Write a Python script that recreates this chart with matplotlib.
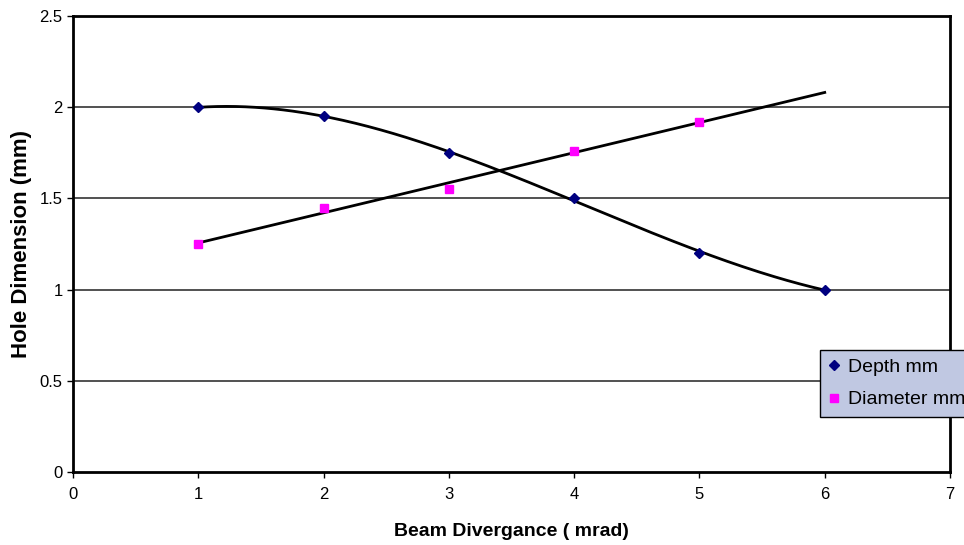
import matplotlib
matplotlib.use("Agg")
import matplotlib.pyplot as plt
import numpy as np

plt.rcParams['font.family'] = ['Liberation Sans', 'DejaVu Sans']

# data
divergence = [1, 2, 3, 4, 5, 6]
depth_mm = [2.0, 1.95, 1.75, 1.5, 1.2, 1.0]
div_diam = [1, 2, 3, 4, 5]
diameter_mm = [1.25, 1.45, 1.55, 1.76, 1.92]
x_ticks = [0, 1, 2, 3, 4, 5, 6, 7]
y_ticks = [0, 0.5, 1, 1.5, 2, 2.5]

fig = plt.figure(figsize=(9.64, 5.45), dpi=100)
ax = fig.add_axes([0.0757, 0.1339, 0.9098, 0.8367])

for yv in y_ticks[1:-1]:
    ax.axhline(yv, color='#333333', lw=1.2, zorder=1)

# trend lines (excel style): polynomial for depth, linear forecast for diameter
xs = np.linspace(divergence[0], divergence[-1], 200)
p_depth = np.polyfit(divergence, depth_mm, 3)
ax.plot(xs, np.polyval(p_depth, xs), color='black', lw=2, zorder=2)
p_diam = np.polyfit(div_diam, diameter_mm, 1)
ax.plot(xs, np.polyval(p_diam, xs), color='black', lw=2, zorder=2)

ax.plot(divergence, depth_mm, ls='none', marker='D', ms=5.5,
        color='#000080', label='Depth mm', zorder=3)
ax.plot(div_diam, diameter_mm, ls='none', marker='s', ms=6,
        color='#FF00FF', label='Diameter mm', zorder=3)

ax.set_xlim(0, 7)
ax.set_ylim(0, 2.5)
ax.set_xticks(x_ticks)
ax.set_yticks(y_ticks)
ax.set_xticklabels([str(v) for v in x_ticks])
ax.set_yticklabels(['0', '0.5', '1', '1.5', '2', '2.5'])
ax.tick_params(direction='out', length=4, width=1, labelsize=12, colors='black')
ax.tick_params(axis='x', pad=7)
for s in ax.spines.values():
    s.set_linewidth(2)
    s.set_color('black')

ax.set_xlabel('Beam Divergance ( mrad)', fontsize=14, fontweight='bold', labelpad=15)
ax.set_ylabel('Hole Dimension (mm)', fontsize=16, fontweight='bold', labelpad=5)

leg = fig.legend(loc='upper left', bbox_to_anchor=(0.851, 0.358), fontsize=14,
                 frameon=True, fancybox=False, handlelength=0.55, handletextpad=0.4,
                 borderpad=0.45, labelspacing=0.75, borderaxespad=0)
leg.get_frame().set_facecolor('#C0C8E2')
leg.get_frame().set_edgecolor('black')
leg.get_frame().set_linewidth(1)
leg.get_frame().set_alpha(1)

fig.savefig('out.png', dpi=100)
